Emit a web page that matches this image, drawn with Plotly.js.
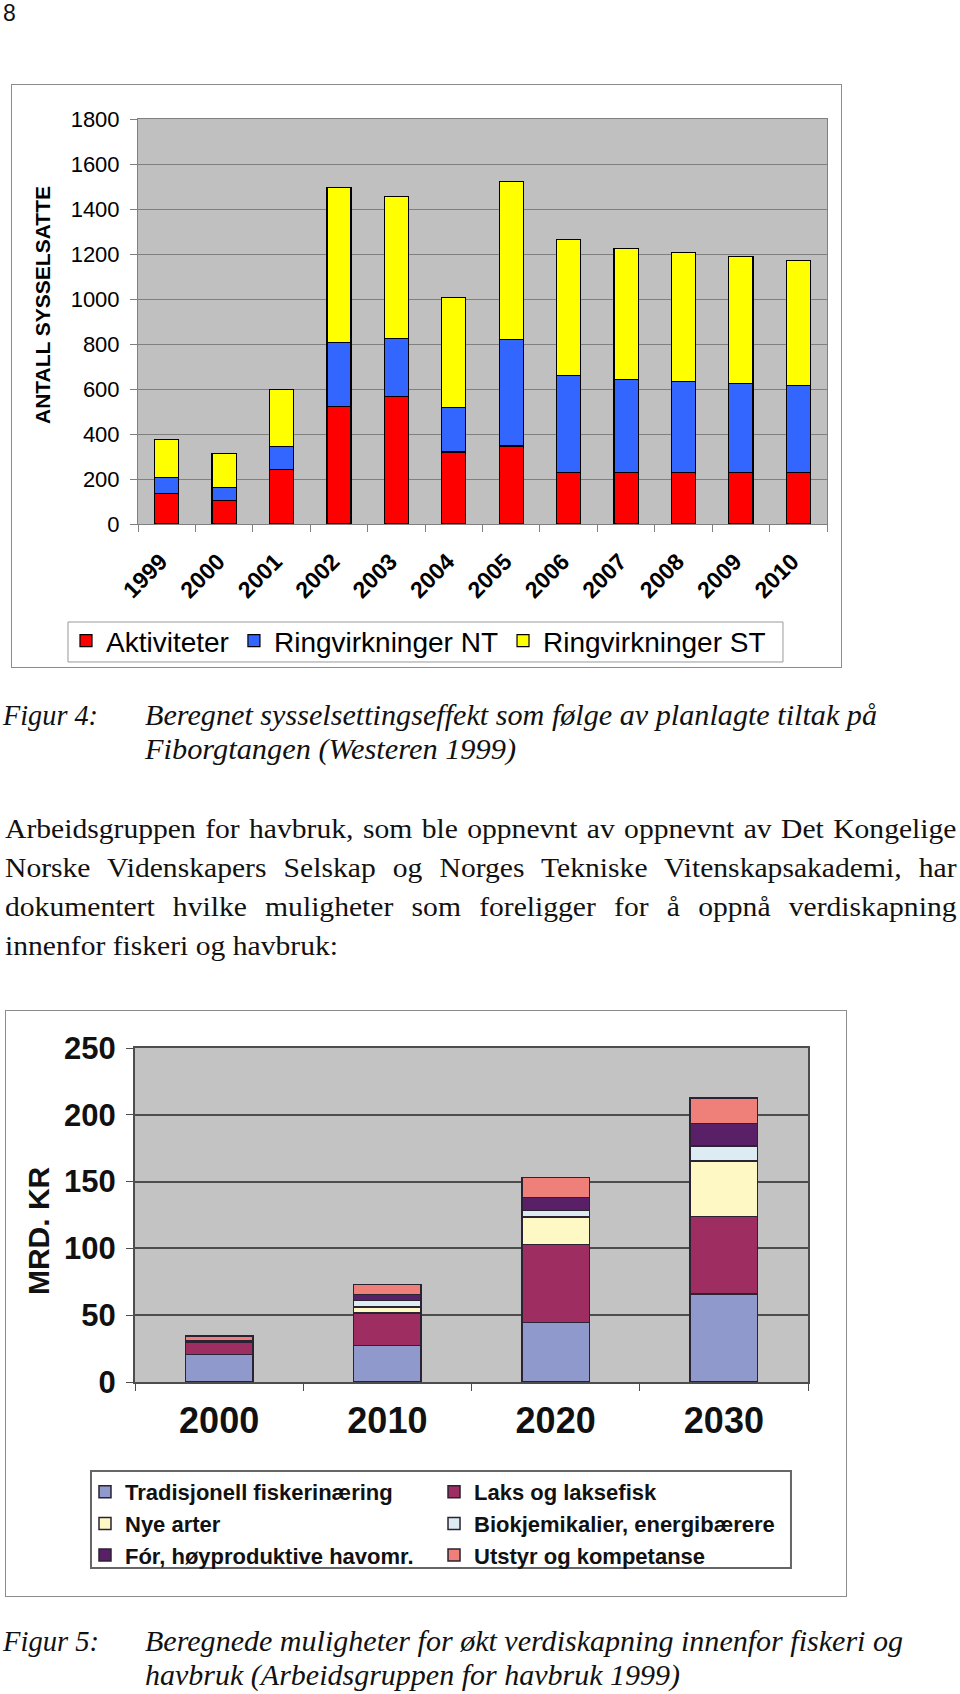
<!DOCTYPE html>
<html><head><meta charset="utf-8">
<script src="https://cdn.plot.ly/plotly-3.0.1.min.js"></script>
<style>
html,body{margin:0;padding:0;background:#fff;width:960px;height:1694px;overflow:hidden;position:relative;}
.frame{position:absolute;box-sizing:border-box;border:1px solid #8c8c8c;pointer-events:none;}
.chart{position:absolute;}
.line{position:absolute;transform-origin:0 0;color:#111;}
</style></head><body>
<div id="c1" class="chart" style="left:11px;top:84px;width:830px;height:613px"></div>
<div class="frame" style="left:11px;top:84px;width:831px;height:584px"></div>
<div id="c2" class="chart" style="left:5px;top:1010px;width:841px;height:586px"></div>
<div class="frame" style="left:5px;top:1010px;width:842px;height:587px"></div>
<script>
// ---- Figure 4 data ----
const years1 = ['1999','2000','2001','2002','2003','2004','2005','2006','2007','2008','2009','2010'];
const aktiviteter = [135,105,242,522,566,320,347,228,228,228,228,228];
const ringvirkningerNT = [70,58,103,285,259,197,474,432,415,404,395,388];
const ringvirkningerST = [171,152,254,687,630,488,702,606,581,574,566,555];
const names1 = ['Aktiviteter','Ringvirkninger NT','Ringvirkninger ST'];

// ---- Figure 5 data ----
const years2 = ['2000','2010','2020','2030'];
const tradisjonell = [20.5,27.5,44.5,66];
const laks = [9.5,24,58.5,58];
const nyeArter = [0,4.5,20.5,41.5];
const biokjemikalier = [0,5,5,11];
const forHavomr = [1,4.5,9.5,17];
const utstyr = [3.5,7.5,15,19];
const names2 = ['Tradisjonell fiskerinæring','Laks og laksefisk','Nye arter','Biokjemikalier, energibærere','Fór, høyproduktive havomr.','Utstyr og kompetanse'];

const SANS = 'Liberation Sans, Arial, sans-serif';

// ---- Chart 1 ----
const colors1 = ['#ff0000','#3366ff','#ffff00'];
const series1 = [aktiviteter, ringvirkningerNT, ringvirkningerST];
const traces1 = series1.map((v,i)=>({
  type:'bar', x:years1, y:v, name:names1[i],
  marker:{color:colors1[i], line:{color:'#000', width:1.2}}
}));
const layout1 = {
  width:830, height:613, margin:{l:127,r:14,t:35,b:173},
  paper_bgcolor:'rgba(0,0,0,0)', plot_bgcolor:'#c0c0c0', barmode:'stack', bargap:0.58,
  font:{family:SANS, color:'#000'},
  xaxis:{type:'category', tickangle:-45, tickfont:{size:23, weight:'bold'}, ticks:'outside',
    tickson:'boundaries', ticklen:7, tickcolor:'#808080', showline:true, linecolor:'#808080',
    mirror:true, showgrid:false, ticklabelstandoff:14, ticklabelshift:-6},
  yaxis:{range:[0,1800], dtick:200, tickfont:{size:22}, ticks:'outside', ticklen:7,
    tickcolor:'#808080', gridcolor:'#808080', gridwidth:1, showline:true, linecolor:'#808080',
    mirror:true, zeroline:false, ticklabelstandoff:6},
  legend:{orientation:'h', x:-0.1045, xanchor:'left', y:-0.2272, yanchor:'top', bgcolor:'rgba(0,0,0,0)',
    borderwidth:0, font:{size:28}, traceorder:'normal'},
  shapes:[{type:'rect', xref:'paper', yref:'paper', x0:-0.1016, x1:0.9361, y0:-0.3407, y1:-0.2420,
    line:{color:'#999', width:1}, fillcolor:'#fff', layer:'below'}],
  annotations:[{text:'ANTALL SYSSELSATTE', textangle:-90, xref:'paper', yref:'paper',
    x:-0.1393, y:0.5407, showarrow:false, font:{size:21, weight:'bold'}, xanchor:'center', yanchor:'middle'}]
};
Plotly.newPlot('c1', traces1, layout1, {staticPlot:true, displayModeBar:false});

// ---- Chart 2 ----
const colors2 = ['#8f99cc','#9e2d62','#fdf8c4','#dcecf2','#5a2067','#ef8079'];
const series2 = [tradisjonell, laks, nyeArter, biokjemikalier, forHavomr, utstyr];
const legendOf = ['legend','legend2','legend','legend2','legend','legend2'];
const traces2 = series2.map((v,i)=>({
  type:'bar', x:years2, y:v, name:names2[i], legend:legendOf[i],
  marker:{color:colors2[i], line:{color:'#2b2233', width:1.5}}
}));
const legStyle = {xanchor:'left', yanchor:'top', bgcolor:'rgba(0,0,0,0)', borderwidth:0,
  font:{size:22, weight:'bold'}, traceorder:'normal'};
const layout2 = {
  width:841, height:586, margin:{l:130,r:38,t:38,b:214},
  paper_bgcolor:'#fff', plot_bgcolor:'#c3c3c3', barmode:'stack', bargap:0.6,
  font:{family:SANS, color:'#111'},
  xaxis:{type:'category', tickfont:{size:36, weight:'bold'}, ticks:'outside', tickson:'boundaries',
    ticklen:7, tickcolor:'#4d4d4d', showline:true, linecolor:'#4d4d4d', linewidth:2, mirror:true,
    showgrid:false, ticklabelstandoff:6},
  yaxis:{range:[0,250], dtick:50, tickfont:{size:31, weight:'bold'}, ticks:'outside', ticklen:7,
    tickcolor:'#4d4d4d', gridcolor:'#4d4d4d', gridwidth:2, showline:true, linecolor:'#4d4d4d',
    linewidth:2, mirror:true, zeroline:false, ticklabelstandoff:4},
  legend:Object.assign({x:-0.0743, y:-0.2664}, legStyle),
  legend2:Object.assign({x:0.4443, y:-0.2664}, legStyle),
  shapes:[{type:'rect', xref:'paper', yref:'paper', x0:-0.0654, x1:0.9747, y0:-0.5569, y1:-0.2665,
    line:{color:'#666', width:2}, fillcolor:'#fff', layer:'below'}],
  annotations:[{text:'MRD. KR', textangle:-90, xref:'paper', yref:'paper', x:-0.1441, y:0.452,
    showarrow:false, font:{size:30, weight:'bold'}, xanchor:'center', yanchor:'middle'}]
};
Plotly.newPlot('c2', traces2, layout2, {staticPlot:true, displayModeBar:false});

// ---- Page text ----
function addLine(text, o){
  const el = document.createElement('div');
  el.className = 'line';
  el.textContent = text;
  const asc = o.serif ? 0.8375 : 0.8465;
  el.style.left = o.left + 'px';
  el.style.top = (o.baseline - asc*o.size) + 'px';
  el.style.fontFamily = o.serif ? "'Liberation Serif','Times New Roman',serif" : SANS;
  el.style.fontSize = o.size + 'px';
  el.style.lineHeight = o.size + 'px';
  el.style.fontStyle = o.italic ? 'italic' : 'normal';
  el.style.whiteSpace = 'nowrap';
  document.body.appendChild(el);
  if (!o.width) return 1;
  const w = el.getBoundingClientRect().width;
  let s = o.width / w;
  if (o.justify){
    s = Math.min(o.scale, s);
    el.style.whiteSpace = 'normal';
    el.style.width = (o.width / s + 0.5) + 'px';
    el.style.textAlign = 'justify';
    el.style.textAlignLast = 'justify';
  }
  el.style.transform = 'scaleX(' + s + ')';
  return s;
}
addLine('8', {left:3, baseline:21.5, size:23});
addLine('Figur 4:', {left:3, baseline:725, size:29, serif:true, italic:true, width:95});
addLine('Beregnet sysselsettingseffekt som følge av planlagte tiltak på', {left:145, baseline:725, size:29, serif:true, italic:true, width:732});
addLine('Fiborgtangen (Westeren 1999)', {left:145, baseline:759, size:29, serif:true, italic:true, width:371});
const ps = addLine('innenfor fiskeri og havbruk:', {left:5, baseline:955, size:28, serif:true, width:333});
addLine('Arbeidsgruppen for havbruk, som ble oppnevnt av oppnevnt av Det Kongelige', {left:5, baseline:838, size:28, serif:true, width:951, justify:true, scale:ps});
addLine('Norske Videnskapers Selskap og Norges Tekniske Vitenskapsakademi, har', {left:5, baseline:877, size:28, serif:true, width:951, justify:true, scale:ps});
addLine('dokumentert hvilke muligheter som foreligger for å oppnå verdiskapning', {left:5, baseline:916, size:28, serif:true, width:951, justify:true, scale:ps});
addLine('Figur 5:', {left:3, baseline:1651, size:29, serif:true, italic:true, width:96});
addLine('Beregnede muligheter for økt verdiskapning innenfor fiskeri og', {left:145, baseline:1651, size:29, serif:true, italic:true, width:758});
addLine('havbruk (Arbeidsgruppen for havbruk 1999)', {left:145, baseline:1685, size:29, serif:true, italic:true, width:535});
</script>
</body></html>
